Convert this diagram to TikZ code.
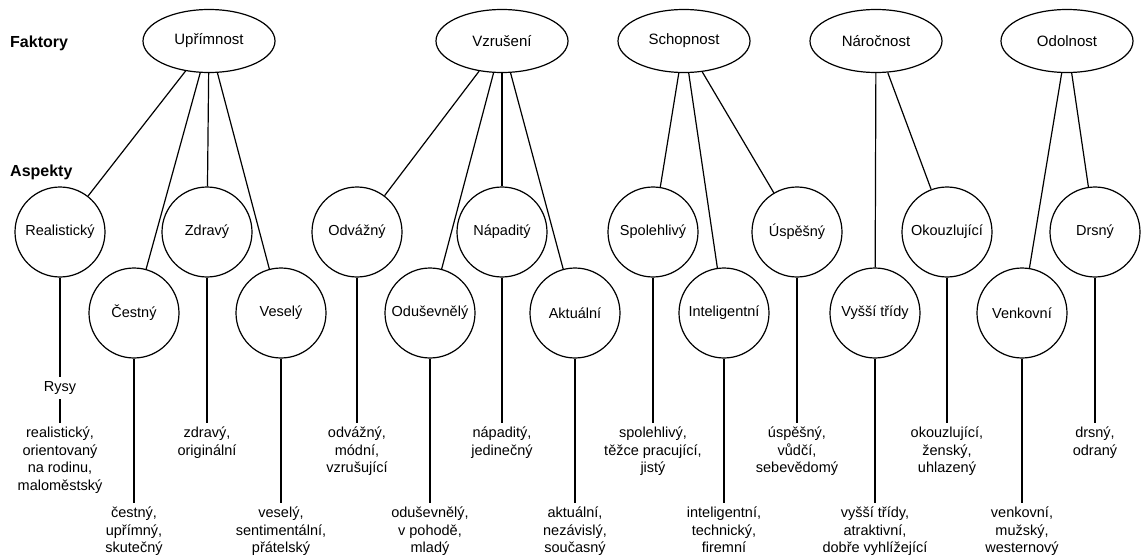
\documentclass[tikz,border=0pt]{standalone}
\usepackage{fontspec}
\setmainfont{Liberation Sans}
\usetikzlibrary{shapes.geometric}
\begin{document}
\begin{tikzpicture}[x=1pt,y=-1pt,
  conn/.style={line width=1.2pt,draw=black},
  factor/.style={ellipse,draw=black,line width=1.2pt,minimum width=132pt,minimum height=63pt,inner sep=0pt,font=\fontsize{15}{17.5}\selectfont},
  aspect/.style={circle,draw=black,line width=1.2pt,minimum size=90pt,inner sep=0pt,font=\fontsize{14.5}{17.5}\selectfont},
  trait/.style={anchor=north,align=center,inner sep=4pt,font=\fontsize{14.5}{17.5}\selectfont},
  rowlabel/.style={anchor=west,inner sep=0pt,font=\fontsize{16}{18}\selectfont\bfseries}]
\useasboundingbox (0,0) rectangle (1141,559);
% row labels
\node[rowlabel] (lf) at (10,43) {Faktory};
\node[rowlabel] (la) at (10,172) {Aspekty};
% factors
\node[factor] (f1) at (209,41) {Upřímnost};
\node[factor] (f2) at (502,41) {Vzrušení};
\node[factor] (f3) at (684,41) {Schopnost};
\node[factor] (f4) at (876,41) {Náročnost};
\node[factor] (f5) at (1067,41) {Odolnost};
% aspects row 1
\node[aspect] (a1) at (60,232) {Realistický};
\node[aspect] (a3) at (207,232) {Zdravý};
\node[aspect] (a5) at (357,232) {Odvážný};
\node[aspect] (a7) at (502,232) {Nápaditý};
\node[aspect] (a9) at (653,232) {Spolehlivý};
\node[aspect] (a11) at (797,232) {Úspěšný};
\node[aspect] (a13) at (947,232) {Okouzlující};
\node[aspect] (a15) at (1095,232) {Drsný};
% aspects row 2
\node[aspect] (a2) at (134,313) {Čestný};
\node[aspect] (a4) at (281,313) {Veselý};
\node[aspect] (a6) at (430,313) {Oduševnělý};
\node[aspect] (a8) at (575,313) {Aktuální};
\node[aspect] (a10) at (724,313) {Inteligentní};
\node[aspect] (a12) at (875,313) {Vyšší třídy};
\node[aspect] (a14) at (1022,313) {Venkovní};
% Rysy
\node[inner sep=4.5pt,font=\fontsize{14.5}{17.5}\selectfont] (rysy) at (60,388) {Rysy};
% traits row 1
\node[trait] (t1) at (60,423) {realistický,\\orientovaný\\na rodinu,\\maloměstský};
\node[trait] (t3) at (207,423) {zdravý,\\originální};
\node[trait] (t5) at (357,423) {odvážný,\\módní,\\vzrušující};
\node[trait] (t7) at (502,423) {nápaditý,\\jedinečný};
\node[trait] (t9) at (653,423) {spolehlivý,\\těžce pracující,\\jistý};
\node[trait] (t11) at (797,423) {úspěšný,\\vůdčí,\\sebevědomý};
\node[trait] (t13) at (947,423) {okouzlující,\\ženský,\\uhlazený};
\node[trait] (t15) at (1095,423) {drsný,\\odraný};
% traits row 2
\node[trait] (t2) at (134,503) {čestný,\\upřímný,\\skutečný};
\node[trait] (t4) at (281,503) {veselý,\\sentimentální,\\přátelský};
\node[trait] (t6) at (430,503) {oduševnělý,\\v pohodě,\\mladý};
\node[trait] (t8) at (575,503) {aktuální,\\nezávislý,\\současný};
\node[trait] (t10) at (724,503) {inteligentní,\\technický,\\firemní};
\node[trait] (t12) at (875,503) {vyšší třídy,\\atraktivní,\\dobře vyhlížející};
\node[trait] (t14) at (1022,503) {venkovní,\\mužský,\\westernový};
% factor - aspect connectors
\foreach \f/\a in {f1/a1,f1/a2,f1/a3,f1/a4,f2/a5,f2/a6,f2/a7,f2/a8,f3/a9,f3/a10,f3/a11,f4/a12,f4/a13,f5/a14,f5/a15}
  \draw[conn] (\f) -- (\a);
% aspect - trait connectors
\draw[conn] (a1) -- (rysy);
\draw[conn] (rysy) -- (t1);
\foreach \i in {2,...,15}
  \draw[conn] (a\i) -- (t\i);
\end{tikzpicture}
\end{document}
